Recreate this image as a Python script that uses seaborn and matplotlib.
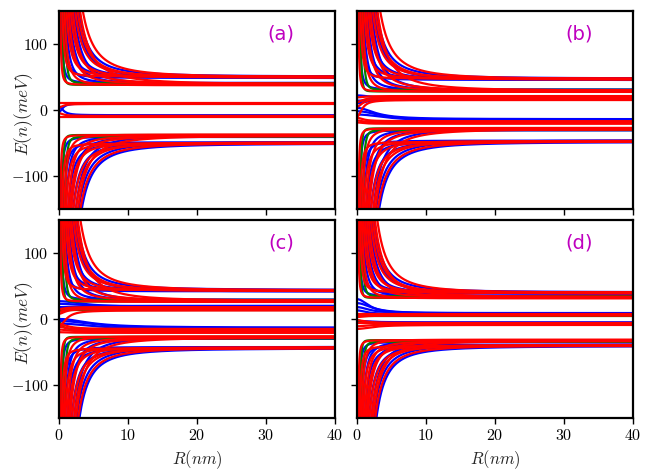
import numpy as np
import pandas as pd
import matplotlib
matplotlib.use('Agg')
import matplotlib.pyplot as plt
import seaborn as sns
from matplotlib.ticker import FuncFormatter

# crossing radii (nm) where each outer-band level leaves the +-150 meV window
R0_RED_UP = [0.2, 0.5, 0.8, 1.1, 1.4, 1.7, 2.0, 2.35, 2.7, 3.05, 3.45]
R0_RED_DN = [0.2, 0.45, 0.75, 1.0, 1.3, 1.55, 1.8, 2.1, 2.45, 2.75, 3.1]
R0_BLUE_UP = [0.35, 0.65, 0.95, 1.25, 1.55, 1.85, 2.2, 2.55, 2.9]
R0_BLUE_DN = [0.35, 0.7, 1.0, 1.35, 1.7, 2.05, 2.45, 2.85, 3.3]
R0_GREEN = [0.5, 0.85]
# which of the two asymptotes each level goes to (0 = inner, 1 = outer) + small offsets
LEVEL_RED = [0, 1, 0, 1, 0, 1, 0, 1, 1, 0, 1]
LEVEL_BLUE = [0, 1, 0, 1, 0, 1, 0, 1, 1]
LEVEL_GREEN = [0, 0]
JIT_RED = [0.0, 1.0, -0.8, 0.5, 1.2, -0.5, 1.5, 0.3, -1.0, 0.8, 0.0]
JIT_BLUE = [3.0, -1.0, 2.0, 0.5, 1.0, -0.5, 0.0, -1.5, 1.0]
JIT_GREEN = [0.0, 2.5]

panel_names = ['(a)', '(b)', '(c)', '(d)']
r_scale = [1.0, 0.97, 0.9, 0.85]
# asymptotes [inner, outer] for the conduction-like and valence-like bands
up_levels = [[38, 49.5], [28, 46.5], [26.5, 43], [32, 39.5]]
dn_levels = [[-38, -50], [-28, -47.5], [-27, -43.5], [-32, -40]]

# central (near zero) levels: asymptote, value at R=0, width (nm), colour
a_cen_asym = [10, -8, 9, -9, 10, -10.5]
a_cen_start = [-3, 5, 4, -5, 10, -10.5]
a_cen_width = [0.6, 0.7, 0.7, 0.7, 1, 1]
a_cen_color = ['blue', 'blue', 'red', 'red', 'red', 'red']

b_cen_asym = [17, 16, 18, -14, -16, -17, 15, 17, 19, 21, -17, -19, -21]
b_cen_start = [22, 14, 10, 3, -2, -7, -10, 5, 12, 19, -12, -16, -19]
b_cen_width = [2.5, 2.5, 2, 3, 4, 5, 0.8, 0.9, 1, 1, 1, 1, 1]
b_cen_color = ['blue'] * 6 + ['red'] * 7

c_cen_asym = [18, 19, 20, -13, -14.5, -16, 13, 15, 16.5, 18, -15, -17, -19, -21, 13, -16]
c_cen_start = [27, 23, 18, 0, -3, -7, -10, 8, 11, 15, -8, -12, -16, -20, 13, -5]
c_cen_width = [4, 4, 3, 5, 6, 6, 1.2, 1, 1, 1, 1.5, 1.5, 1.5, 1.5, 1, 0.5]
c_cen_color = ['blue'] * 6 + ['red'] * 8 + ['green'] * 2

d_cen_asym = [8, 8.5, 9, 7.5, -5, -6, 5, 6.5, 8, -6, -7, -8, -9, 5, -7]
d_cen_start = [30, 24, 18, 13, -3, -5, 3, 6, 8, -2, -6, -11, -15, 5, -2]
d_cen_width = [2, 2.5, 2, 1.5, 2, 2, 1, 1, 1, 1.5, 2, 2, 2.5, 1, 1]
d_cen_color = ['blue'] * 6 + ['red'] * 7 + ['green'] * 2

cen_asym = [a_cen_asym, b_cen_asym, c_cen_asym, d_cen_asym]
cen_start = [a_cen_start, b_cen_start, c_cen_start, d_cen_start]
cen_width = [a_cen_width, b_cen_width, c_cen_width, d_cen_width]
cen_color = [a_cen_color, b_cen_color, c_cen_color, d_cen_color]

R = np.geomspace(0.02, 40, 500)


def outer_band(levels, edge, r0s, lev, jit, p, color, sc, rows):
    for r0, li, j in zip(r0s, lev, jit):
        a = levels[li] + (j if edge > 0 else -j)
        E = a + (edge - a) * (r0 * sc / R) ** p
        E = np.clip(E, -400, 400)
        rows.append(pd.DataFrame({'R': R, 'E': E, 'kind': color,
                                  'curve': f'{color}{edge}{r0}{len(rows)}'}))


def build_panel(i):
    rows = []
    sc = r_scale[i]
    outer_band(up_levels[i], 150, R0_RED_UP, LEVEL_RED, JIT_RED, 2, 'red', sc, rows)
    outer_band(up_levels[i], 150, R0_BLUE_UP, LEVEL_BLUE, JIT_BLUE, 2, 'blue', sc, rows)
    outer_band(up_levels[i], 150, R0_GREEN, LEVEL_GREEN, JIT_GREEN, 4.3, 'green', sc, rows)
    outer_band(dn_levels[i], -150, R0_RED_DN, LEVEL_RED, JIT_RED, 2, 'red', sc, rows)
    outer_band(dn_levels[i], -150, R0_BLUE_DN, LEVEL_BLUE, JIT_BLUE, 2, 'blue', sc, rows)
    outer_band(dn_levels[i], -150, R0_GREEN, LEVEL_GREEN, JIT_GREEN, 4.3, 'green', sc, rows)
    for a, b, t, c in zip(cen_asym[i], cen_start[i], cen_width[i], cen_color[i]):
        E = a + (b - a) / (1 + (R / t) ** 2)
        rows.append(pd.DataFrame({'R': R, 'E': E, 'kind': c,
                                  'curve': f'cen{len(rows)}'}))
    return pd.concat(rows, ignore_index=True)


sns.set_style('ticks')
plt.rcParams['mathtext.fontset'] = 'cm'

fig, axes = plt.subplots(2, 2, figsize=(6.54, 4.75), dpi=100, sharex=True, sharey=True)
fig.subplots_adjust(left=0.0902, right=0.968, top=0.977, bottom=0.12, wspace=0.08, hspace=0.056)

pal = {'blue': '#0000ff', 'green': '#007f00', 'red': '#ff0000'}
for i, ax in enumerate(axes.flat):
    df = build_panel(i)
    sns.lineplot(data=df, x='R', y='E', hue='kind', units='curve', estimator=None,
                 hue_order=['blue', 'green', 'red'], palette=pal, legend=False,
                 lw=1.6, ax=ax)
    ax.set_xlim(0, 40)
    ax.set_ylim(-150, 150)
    ax.set_xticks([0, 10, 20, 30, 40])
    ax.set_yticks([-100, 0, 100])
    ax.xaxis.set_major_formatter(FuncFormatter(lambda v, p: f'${v:.0f}$'))
    ax.yaxis.set_major_formatter(FuncFormatter(lambda v, p: f'${v:.0f}$'))
    ax.tick_params(direction='out', length=4, width=1, labelsize=11.5, colors='black')
    for s in ax.spines.values():
        s.set_linewidth(1.6)
        s.set_color('black')
    ax.set_xlabel('')
    ax.set_ylabel('')
    ax.text(0.804, 0.884, panel_names[i], transform=ax.transAxes, color='m',
            fontsize=14, ha='center', va='center', family='DejaVu Sans')

for ax in axes[:, 0]:
    ax.set_ylabel('$E(n)(meV)$', fontsize=12.5)
    ax.yaxis.set_label_coords(-0.087, 0.48)
for ax in axes[1, :]:
    ax.set_xlabel('$R(nm)$', fontsize=12)
    ax.xaxis.set_label_coords(0.5, -0.152)

fig.savefig('out.png', dpi=100)
